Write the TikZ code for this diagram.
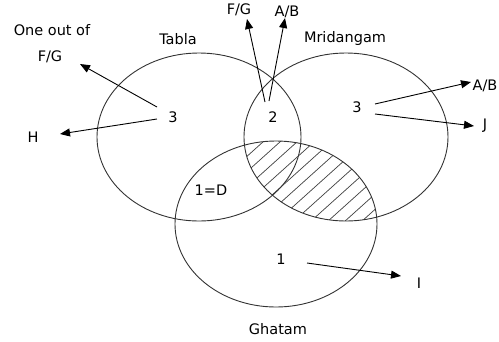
\documentclass[tikz,border=0pt]{standalone}
\usepackage{fontspec}
\setmainfont{DejaVu Sans}
\usetikzlibrary{arrows.meta}
\tikzset{
  set/.style={draw=black!80, line width=0.9pt},
  hatch/.style={draw=black!75, line width=0.7pt},
  lbl/.style={font=\fontsize{14.5}{16}\selectfont, inner sep=0pt},
  arr/.style={-{Triangle[length=10pt, width=8pt]}, line width=0.9pt},
}

\begin{document}
\begin{tikzpicture}[x=1pt, y=-1pt]

  \useasboundingbox (0,0) rectangle (499,341);

  %% ── Set centres ────────────────────────────────────────────────────────────

  \coordinate (tab) at (199, 137);
  \coordinate (mri) at (346, 137);
  \coordinate (gha) at (276, 224);

  %% ── Hatched region: Mridangam and Ghatam ───────────────────────────────────

  \begin{scope}
    \clip (mri) ellipse [x radius=102, y radius=84];
    \clip (gha) ellipse [x radius=101, y radius=83];
    \foreach \k in {0,...,16}
      \draw[hatch] ({120+17*\k}, 240) -- ++(150, -135);
  \end{scope}

  %% ── Sets ───────────────────────────────────────────────────────────────────

  \draw[set] (tab) ellipse [x radius=102, y radius=84];
  \draw[set] (mri) ellipse [x radius=102, y radius=84];
  \draw[set] (gha) ellipse [x radius=101, y radius=83];

  \node[lbl] (tabla)  at (178,  39) {Tabla};
  \node[lbl] (mridan) at (345,  38) {Mridangam};
  \node[lbl] (ghatam) at (278, 329) {Ghatam};

  %% ── Counts ─────────────────────────────────────────────────────────────────

  \node[lbl] (tabthree) at (173, 117) {3};
  \node[lbl] (two)      at (273, 117) {2};
  \node[lbl] (mrithree) at (357, 107) {3};
  \node[lbl] (oned)     at (211, 190) {1=D};
  \node[lbl] (one)      at (281, 259) {1};

  %% ── Outside labels ─────────────────────────────────────────────────────────

  \node[lbl] (oneout)  at (52, 30) {One out of};
  \node[lbl] (fgleft)  at (50, 57) {F/G};
  \node[lbl] (h)       at (33, 137) {H};
  \node[lbl] (fgtop)   at (239, 10) {F/G};
  \node[lbl] (abtop)   at (287, 12) {A/B};
  \node[lbl] (abright) at (485, 86) {A/B};
  \node[lbl] (j)       at (485, 126) {J};
  \node[lbl] (i)       at (419, 283) {I};

  %% ── Arrows ─────────────────────────────────────────────────────────────────

  \coordinate (tabup)  at (157, 107);
  \coordinate (tablow) at (157, 119);
  \coordinate (twol)   at (265, 102);
  \coordinate (twor)   at (269, 101);
  \coordinate (mriup)  at (375, 104);
  \coordinate (mrilow) at (375, 114);
  \coordinate (onest)  at (307, 263);

  \draw[arr] (tabup)  -- (80, 64)   coordinate (fgtip);
  \draw[arr] (tablow) -- (60, 134)  coordinate (htip);
  \draw[arr] (twol)   -- (247, 19)  coordinate (fgttip);
  \draw[arr] (twor)   -- (285, 18)  coordinate (abttip);
  \draw[arr] (mriup)  -- (471, 82)  coordinate (abrtip);
  \draw[arr] (mrilow) -- (474, 126) coordinate (jtip);
  \draw[arr] (onest)  -- (401, 276) coordinate (itip);

\end{tikzpicture}
\end{document}
